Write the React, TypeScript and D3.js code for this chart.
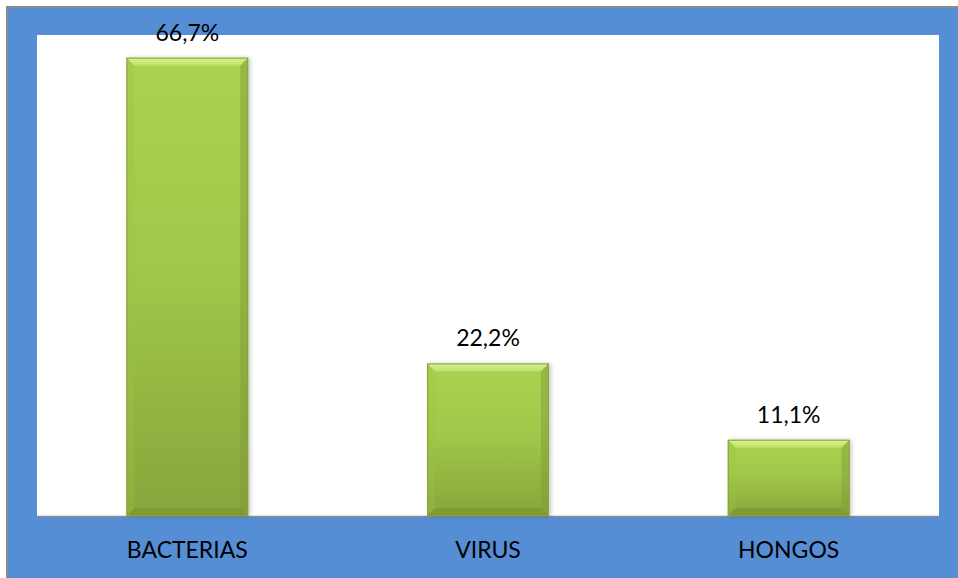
import React from "react";
import * as d3 from "d3";

const categories = ["BACTERIAS", "VIRUS", "HONGOS"];
const values = [66.7, 22.2, 11.1];
const valueLabels = ["66,7%", "22,2%", "11,1%"];

const W = 958;
const H = 578;
const plot = { left: 37, right: 939, top: 35, bottom: 516 };
const FONT = "Lato, 'Open Sans', sans-serif";

export default function App() {
  const x = d3
    .scaleBand<string>()
    .domain(categories)
    .range([plot.left, plot.right])
    .paddingInner(0)
    .paddingOuter(0);
  const y = d3.scaleLinear().domain([0, 70]).range([plot.bottom, plot.top]);
  const barW = x.bandwidth() * 0.405;
  const bev = 8;

  return (
    <svg
      width={W}
      height={H}
      style={{ position: "absolute", left: 0, top: 0, display: "block" }}
    >
      <defs>
        <linearGradient id="barGrad" x1="0" y1="0" x2="0" y2="1">
          <stop offset="0" stopColor="#acd250" />
          <stop offset="0.45" stopColor="#a2c84a" />
          <stop offset="1" stopColor="#88a53b" />
        </linearGradient>
        <linearGradient id="topBev" x1="0" y1="0" x2="0" y2="1">
          <stop offset="0" stopColor="#ddf296" />
          <stop offset="1" stopColor="#bde065" />
        </linearGradient>
        <filter id="sh" x="-10%" y="-10%" width="130%" height="120%">
          <feDropShadow dx="2" dy="0" stdDeviation="2" floodColor="#000" floodOpacity="0.22" />
        </filter>
      </defs>
      <rect x={0} y={0} width={W} height={H} fill="#ffffff" />
      <rect x={6} y={6} width={W - 6} height={H - 6} fill="#8c8c8c" />
      <rect x={8} y={8} width={W - 8} height={H - 8} fill="#558ed5" />
      <rect
        x={plot.left}
        y={plot.top}
        width={plot.right - plot.left}
        height={plot.bottom - plot.top}
        fill="#ffffff"
      />
      <line
        x1={plot.left}
        x2={plot.right}
        y1={plot.bottom + 0.5}
        y2={plot.bottom + 0.5}
        stroke="#8c8c8c"
        strokeWidth={1.5}
      />
      {categories.map((c, i) => {
        const cx = (x(c) as number) + x.bandwidth() / 2;
        const x0 = cx - barW / 2;
        const x1 = cx + barW / 2;
        const y0 = y(values[i]);
        const y1 = y(0);
        const h = y1 - y0;
        return (
          <g key={c}>
            <g filter="url(#sh)">
              <rect x={x0} y={y0} width={barW} height={h} fill="url(#barGrad)" />
            </g>
            <polygon
              points={`${x0},${y0} ${x1},${y0} ${x1 - bev},${y0 + bev} ${x0 + bev},${y0 + bev}`}
              fill="url(#topBev)"
            />
            <polygon
              points={`${x0},${y0} ${x0 + bev},${y0 + bev} ${x0 + bev},${y1 - bev} ${x0},${y1}`}
              fill="#9cc445"
              opacity={0.35}
            />
            <polygon
              points={`${x1},${y0} ${x1 - bev},${y0 + bev} ${x1 - bev},${y1 - bev} ${x1},${y1}`}
              fill="#7f9b35"
              opacity={0.45}
            />
            <polygon
              points={`${x0},${y1} ${x0 + bev},${y1 - bev} ${x1 - bev},${y1 - bev} ${x1},${y1}`}
              fill="#76922f"
              opacity={0.6}
            />
            <rect
              x={x0 + 0.5}
              y={y0 + 0.5}
              width={barW - 1}
              height={h - 1}
              fill="none"
              stroke="#86a23c"
              strokeWidth={1}
            />
            <text
              x={cx}
              y={y0 - 17}
              textAnchor="middle"
              fontFamily={FONT}
              fontSize={23}
              fill="#000"
            >
              {valueLabels[i]}
            </text>
            <text
              x={cx}
              y={558}
              textAnchor="middle"
              fontFamily={FONT}
              fontSize={23}
              fill="#000"
            >
              {c}
            </text>
          </g>
        );
      })}
    </svg>
  );
}
